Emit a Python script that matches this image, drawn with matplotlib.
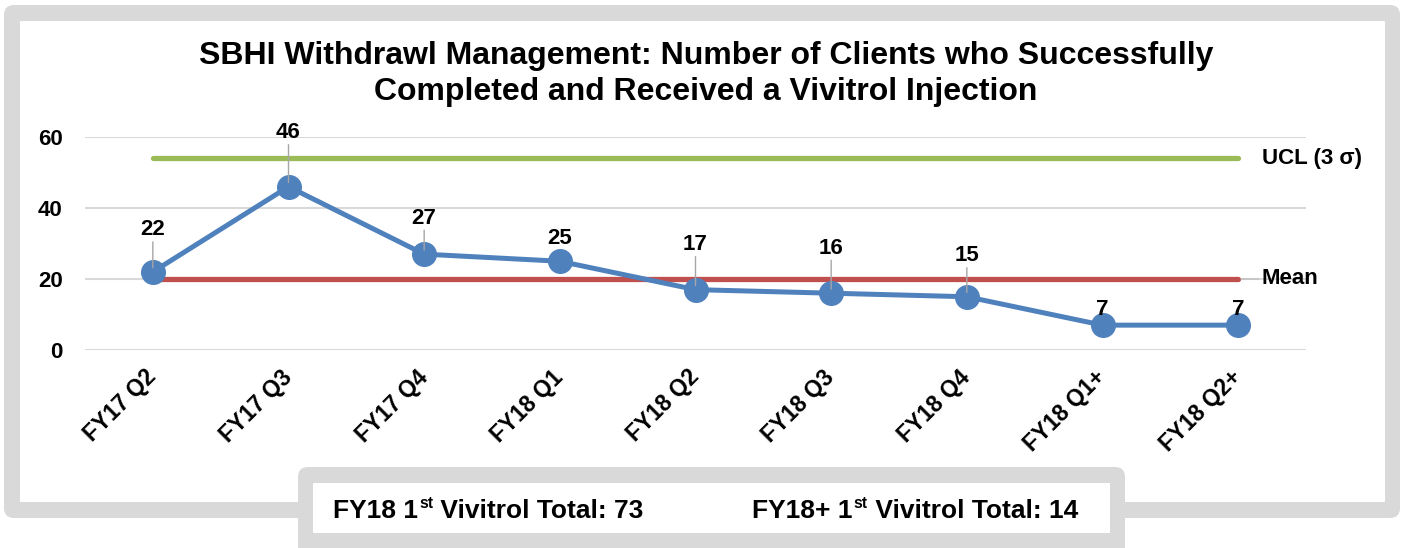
import matplotlib
matplotlib.use('Agg')
import matplotlib.pyplot as plt
import matplotlib.transforms as mtransforms
from matplotlib.patches import FancyBboxPatch

plt.rcParams['font.family'] = ['Liberation Sans', 'DejaVu Sans']
plt.rcParams['font.weight'] = 'bold'

quarters = ['FY17 Q2', 'FY17 Q3', 'FY17 Q4', 'FY18 Q1', 'FY18 Q2',
            'FY18 Q3', 'FY18 Q4', 'FY18 Q1+', 'FY18 Q2+']
clients = [22, 46, 27, 25, 17, 16, 15, 7, 7]
mean_value = 20
ucl_value = 54
yticks = [0, 20, 40, 60]
title = 'SBHI Withdrawl Management: Number of Clients who Successfully\nCompleted and Received a Vivitrol Injection'
fy18_total = 73
fy18plus_total = 14

# label offsets in pixels above each point (labels were nudged by hand in the original)
label_dy = [42, 54, 36, 23, 45, 45, 41, 16, 16]

W, H = 1403, 548
fig = plt.figure(figsize=(W / 100, H / 100), dpi=100)
renderer = fig.canvas.get_renderer()

# background frame, drawn in pixel coordinates
bg = fig.add_axes([0, 0, 1, 1])
bg.set_xlim(0, W)
bg.set_ylim(H, 0)
bg.axis('off')
gray = '#d9d9d9'


def rbox(x0, y0, x1, y1, color, r):
    bg.add_patch(FancyBboxPatch((x0 + r, y0 + r), x1 - x0 - 2 * r, y1 - y0 - 2 * r,
                                boxstyle='round,pad=%d' % r, fc=color, ec='none'))


rbox(4, 5, 1400, 518, gray, 10)
rbox(20, 21, 1385, 502, 'white', 1)
rbox(298, 467, 1125, 575, gray, 10)
rbox(313, 483, 1110, 533, 'white', 1)

bg.text(706, 74, title, ha='center', va='center', fontsize=23, fontweight='bold',
        linespacing=1.28)


# bottom box text with superscripts, placed piece by piece
def sup_text(x, y, pre, post, size=19):
    t = bg.text(x, y, pre, ha='left', va='baseline', fontsize=size, fontweight='bold')
    x += t.get_window_extent(renderer).width
    s = bg.text(x + 1, y - 10, 'st', ha='left', va='baseline', fontsize=size * 0.6, fontweight='bold')
    x += s.get_window_extent(renderer).width + 1
    bg.text(x, y, post, ha='left', va='baseline', fontsize=size, fontweight='bold')


sup_text(333, 518, 'FY18 1', ' Vivitrol Total: %d' % fy18_total)
sup_text(752, 518, 'FY18+ 1', ' Vivitrol Total: %d' % fy18plus_total)

# main chart
ax = fig.add_axes([85 / W, 1 - 350 / H, (1306 - 85) / W, 213 / H])
x = list(range(len(quarters)))
ax.set_xlim(-0.5, len(quarters) - 0.5)
ax.set_ylim(0, 60)
ax.set_facecolor('none')
for sp in ax.spines.values():
    sp.set_visible(False)
ax.set_yticks(yticks)
ax.yaxis.grid(True, color='#d9d9d9', linewidth=1.5)
ax.set_axisbelow(True)
ax.tick_params(axis='both', length=0, labelsize=16)
ax.tick_params(axis='y', pad=16)
ax.set_xticks(x)
ax.set_xticklabels(quarters, rotation=45, ha='right', va='center', rotation_mode='anchor')
shift = mtransforms.ScaledTranslation(7 / 100, 0, fig.dpi_scale_trans)
for lab in ax.get_xticklabels():
    lab.set_fontweight('bold')
    lab.set_fontsize(16.5)
    lab.set_transform(lab.get_transform() + shift)
for lab in ax.get_yticklabels():
    lab.set_fontweight('bold')
ax.tick_params(axis='x', pad=17)

ax.plot([x[0], x[-1]], [ucl_value, ucl_value], color='#9bbb59', lw=3.8, solid_capstyle='round', zorder=2)
ax.plot([x[0], x[-1]], [mean_value, mean_value], color='#c0504d', lw=3.8, solid_capstyle='round', zorder=2)
ax.plot(x, clients, color='#4f81bd', lw=3.6, marker='o', markersize=17, zorder=3)

ax.annotate('UCL (3 σ)', xy=(x[-1], ucl_value), xytext=(17, 0), textcoords='offset points',
            ha='left', va='center', fontsize=16, fontweight='bold')
ax.annotate('Mean', xy=(x[-1], mean_value), xytext=(17, 0), textcoords='offset points',
            ha='left', va='center', fontsize=16, fontweight='bold',
            arrowprops=dict(arrowstyle='-', color='#bfbfbf', lw=1, shrinkA=0, shrinkB=2))

for xi, v, dy in zip(x, clients, label_dy):
    ax.annotate(str(v), xy=(xi, v), xytext=(0, dy * 0.72), textcoords='offset points',
                ha='center', va='center', fontsize=16, fontweight='bold', zorder=5)
    if dy > 30:
        ax.annotate('', xy=(xi, v), xytext=(0, (dy - 12) * 0.72), textcoords='offset points',
                    arrowprops=dict(arrowstyle='-', color='#a6a6a6', lw=1, shrinkA=0, shrinkB=3),
                    zorder=4)

fig.savefig('out.png', dpi=100)
